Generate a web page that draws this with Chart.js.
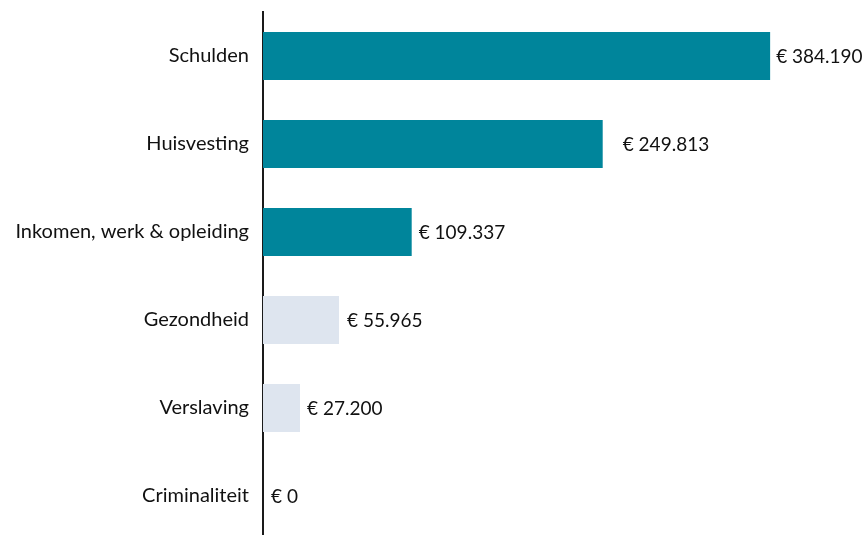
<!DOCTYPE html>
<html>
<head>
<meta charset="utf-8">
<script src="https://cdn.jsdelivr.net/npm/chart.js@4/dist/chart.umd.min.js"></script>
<style>
  html, body { margin: 0; padding: 0; background: #fff; overflow: hidden; }
  #wrap { width: 866px; height: 535px; overflow: hidden; }
  canvas { display: block; }
</style>
</head>
<body>
<div id="wrap"><canvas id="c" width="866" height="540"></canvas></div>
<script>
const categories = ["Schulden", "Huisvesting", "Inkomen, werk & opleiding", "Gezondheid", "Verslaving", "Criminaliteit"];
const barValues = [384190, 257350, 112650, 57580, 28030, 0];
const valueLabels = ["€ 384.190", "€ 249.813", "€ 109.337", "€ 55.965", "€ 27.200", "€ 0"];
const barColors = ["#00859B", "#00859B", "#00859B", "#DEE5EF", "#DEE5EF", "#DEE5EF"];
const labelPad = [6, 20, 7, 8, 7, 8];

const FONT = "Lato, 'Open Sans', sans-serif";

const valueLabelPlugin = {
  id: 'valueLabels',
  afterDatasetsDraw(chart) {
    const ctx = chart.ctx;
    const meta = chart.getDatasetMeta(0);
    ctx.save();
    ctx.font = "19px " + FONT;
    ctx.fillStyle = "#111";
    ctx.textAlign = "left";
    ctx.textBaseline = "middle";
    meta.data.forEach((bar, i) => {
      ctx.fillText(valueLabels[i], bar.x + labelPad[i], bar.y + 1);
    });
    ctx.restore();
  }
};

new Chart(document.getElementById('c'), {
  type: 'bar',
  data: {
    labels: categories,
    datasets: [{
      data: barValues,
      backgroundColor: barColors,
      borderWidth: 0,
      barPercentage: 0.545,
      categoryPercentage: 1.0
    }]
  },
  options: {
    indexAxis: 'y',
    responsive: false,
    animation: false,
    devicePixelRatio: 1,
    layout: { padding: { top: 12, right: 75, bottom: 0, left: 0 } },
    plugins: { legend: { display: false }, tooltip: { enabled: false } },
    scales: {
      x: {
        display: false,
        min: 0,
        max: 400000
      },
      y: {
        afterFit(scale) { scale.width = 263; scale.paddingTop = 0; scale.paddingBottom = 0; },
        grid: { display: false, drawTicks: false },
        border: { display: true, color: "#1a1a1a", width: 2 },
        ticks: {
          padding: 14,
          color: "#111",
          font: { family: FONT, size: 20 }
        }
      }
    }
  },
  plugins: [valueLabelPlugin]
});
</script>
</body>
</html>
